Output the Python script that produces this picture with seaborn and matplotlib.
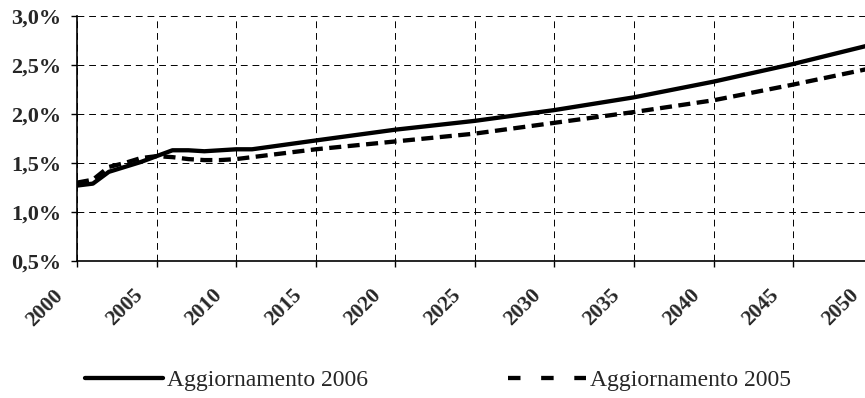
import pandas as pd
import seaborn as sns
import matplotlib.pyplot as plt
import matplotlib.transforms as mtransforms
from matplotlib.ticker import FuncFormatter

# Dati (valori in %)
anni = [2000, 2001, 2002, 2003, 2004, 2005, 2006, 2007, 2008, 2009, 2010, 2011,
        2015, 2020, 2025, 2030, 2035, 2040, 2045, 2050]
agg_2006 = [1.27, 1.29, 1.41, 1.46, 1.51, 1.57, 1.63, 1.63, 1.62, 1.63, 1.64, 1.64,
            1.73, 1.84, 1.93, 2.04, 2.17, 2.33, 2.51, 2.71]
agg_2005 = [1.30, 1.33, 1.46, 1.50, 1.55, 1.57, 1.56, 1.54, 1.53, 1.53, 1.54, 1.56,
            1.64, 1.72, 1.80, 1.91, 2.02, 2.14, 2.30, 2.47]
serie = ["Aggiornamento 2006", "Aggiornamento 2005"]

df = pd.concat([
    pd.DataFrame({"anno": anni, "valore": agg_2006, "serie": serie[0]}),
    pd.DataFrame({"anno": anni, "valore": agg_2005, "serie": serie[1]}),
])

sns.set_style("white")
plt.rcParams["font.family"] = ["Liberation Serif", "DejaVu Serif"]

fig = plt.figure(figsize=(8.65, 3.98), dpi=100)
ax = fig.add_axes([0.089, 0.344, 0.920, 0.616])

sns.lineplot(data=df, x="anno", y="valore", style="serie", style_order=serie,
             dashes={serie[0]: "", serie[1]: (2.8, 1.5)}, color="black",
             linewidth=3.1, ax=ax, legend=True)

ax.set_xlim(2000, 2050)
ax.set_ylim(0.5, 3.0)
ax.set_xticks(range(2000, 2051, 5))
ax.set_yticks([0.5, 1.0, 1.5, 2.0, 2.5, 3.0])
ax.yaxis.set_major_formatter(FuncFormatter(lambda v, p: f"{v:.1f}%".replace(".", ",")))
ax.set_xlabel("")
ax.set_ylabel("")

ax.grid(True, color="black", linestyle=(0, (7, 5)), linewidth=0.7)
for s in ["top", "right"]:
    ax.spines[s].set_visible(False)
for s in ["left", "bottom"]:
    ax.spines[s].set_color("black")
    ax.spines[s].set_linewidth(1.2)

ax.tick_params(axis="both", direction="out", length=4.5, width=1, color="black",
               labelsize=16, left=True, bottom=True)
ax.tick_params(axis="y", pad=7)
ax.tick_params(axis="x", pad=13, labelsize=15.5)
shift = mtransforms.ScaledTranslation(-0.24, 0, fig.dpi_scale_trans)
for lab in ax.get_yticklabels():
    lab.set_fontweight("bold")
for lab in ax.get_xticklabels():
    lab.set_fontweight("bold")
    lab.set_rotation(45)
    lab.set_ha("right")
    lab.set_va("top")
    lab.set_rotation_mode("anchor")
    lab.set_transform(lab.get_transform() + shift)

handles, labels = ax.get_legend_handles_labels()
leg = ax.legend(handles, labels, loc="center left", bbox_to_anchor=(0.098, 0.045),
                bbox_transform=fig.transFigure, ncol=2, frameon=False, fontsize=17,
                handlelength=3.3, handletextpad=0.2, columnspacing=5.9,
                borderpad=0, borderaxespad=0)
leg.legend_handles[1].set_dashes((2.9, 4.8))

fig.savefig("out.png", dpi=100)
